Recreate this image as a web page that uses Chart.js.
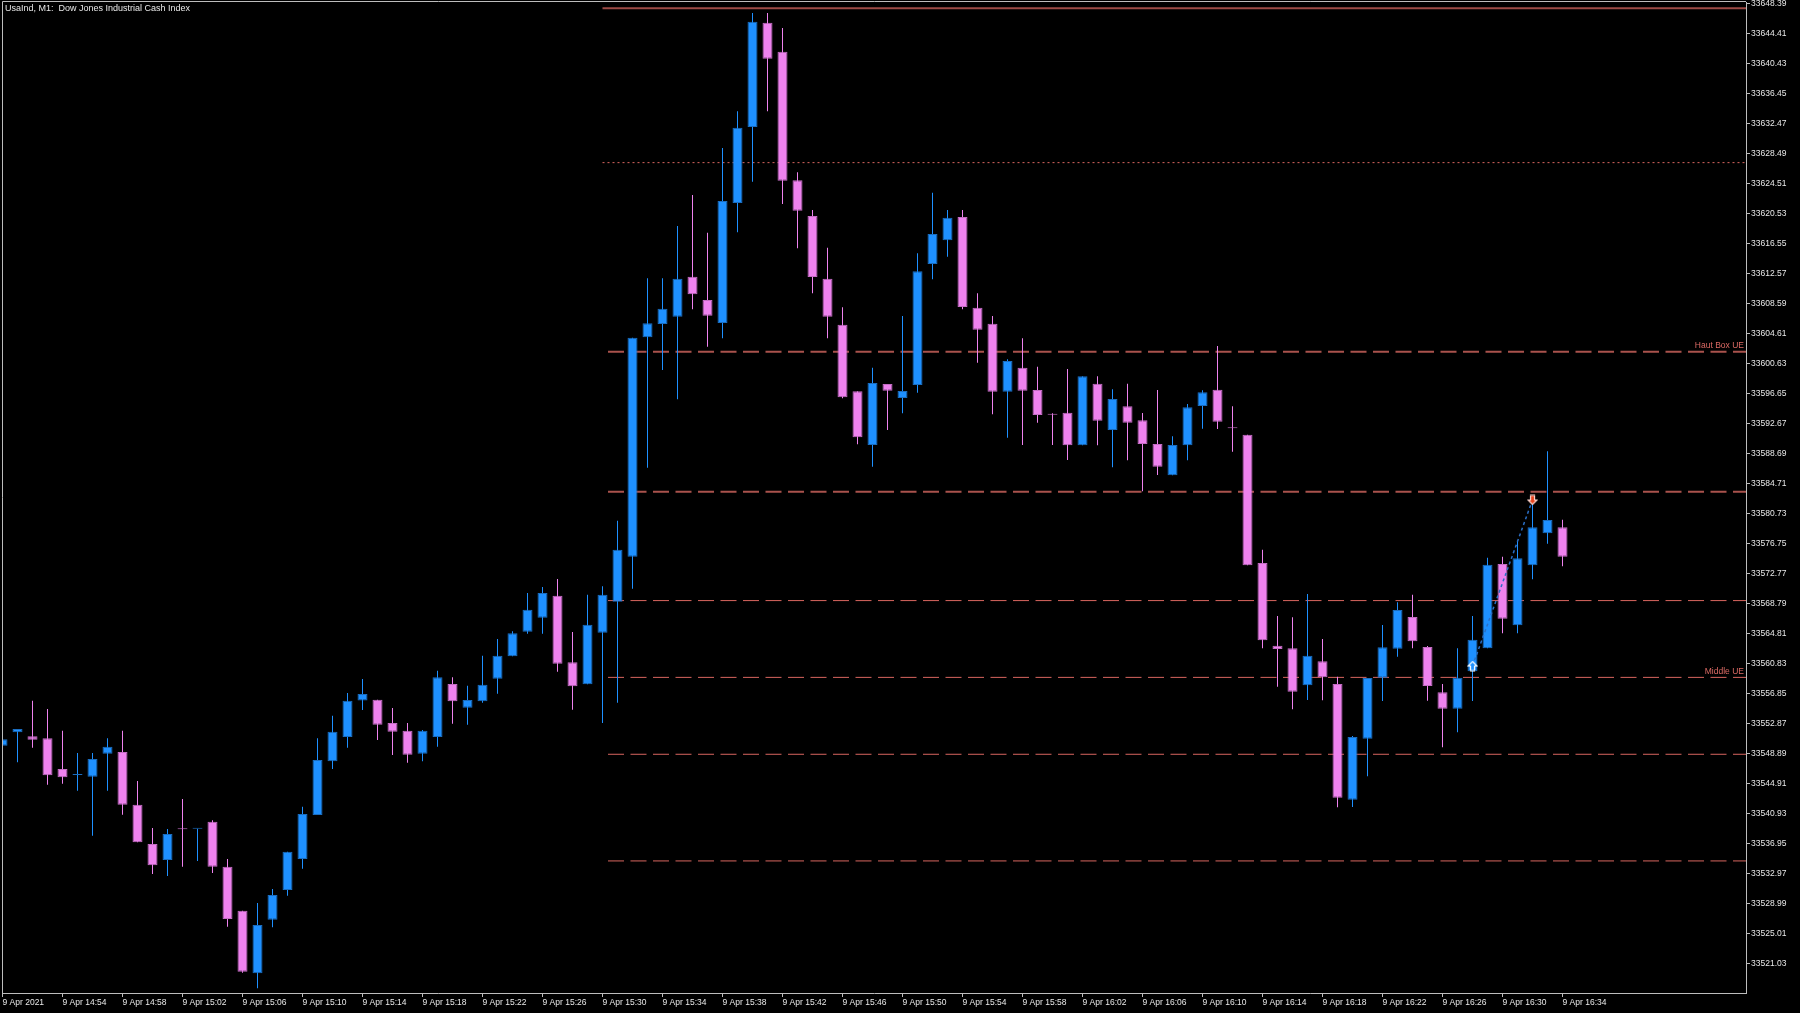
<!DOCTYPE html>
<html>
<head>
<meta charset="utf-8">
<title>UsaInd, M1</title>
<script src="https://cdn.jsdelivr.net/npm/chart.js@4.4.1/dist/chart.umd.min.js"></script>
<style>
	html, body { margin: 0; padding: 0; background: #000; }
	#wrap { width: 1800px; height: 1013px; }
</style>
</head>
<body>
<div id="wrap"><canvas id="chart" width="1800" height="1013"></canvas></div>
<script>
// one candle per minute, 9 Apr 2021 14:50 -> 16:34
const timeLabels = [
	"9 Apr 2021", "9 Apr 14:54", "9 Apr 14:58", "9 Apr 15:02", "9 Apr 15:06", "9 Apr 15:10",
	"9 Apr 15:14", "9 Apr 15:18", "9 Apr 15:22", "9 Apr 15:26", "9 Apr 15:30", "9 Apr 15:34",
	"9 Apr 15:38", "9 Apr 15:42", "9 Apr 15:46", "9 Apr 15:50", "9 Apr 15:54", "9 Apr 15:58",
	"9 Apr 16:02", "9 Apr 16:06", "9 Apr 16:10", "9 Apr 16:14", "9 Apr 16:18", "9 Apr 16:22",
	"9 Apr 16:26", "9 Apr 16:30", "9 Apr 16:34"
];
const timeTickIndex = [0, 4, 8, 12, 16, 20, 24, 28, 32, 36, 40, 44, 48, 52, 56, 60, 64, 68, 72, 76, 80, 84, 88, 92, 96, 100, 104];

const priceTicks = [
	33648.39, 33644.41, 33640.43, 33636.45, 33632.47, 33628.49, 33624.51, 33620.53, 33616.55,
	33612.57, 33608.59, 33604.61, 33600.63, 33596.65, 33592.67, 33588.69, 33584.71, 33580.73,
	33576.75, 33572.77, 33568.79, 33564.81, 33560.83, 33556.85, 33552.87, 33548.89, 33544.91,
	33540.93, 33536.95, 33532.97, 33528.99, 33525.01, 33521.03
];

const opens = [
	33549.90, 33551.68, 33551.15, 33550.88, 33546.81, 33546.00, 33545.79, 33548.84, 33549.07, 33542.07,
	33536.86, 33534.74, 33538.82, 33538.88, 33539.82, 33533.85, 33528.01, 33519.71, 33526.82, 33530.76,
	33534.87, 33540.71, 33547.83, 33551.06, 33555.90, 33556.00, 33552.91, 33551.89, 33548.84, 33551.06,
	33558.09, 33554.94, 33555.79, 33558.79, 33561.76, 33565.03, 33566.88, 33569.80, 33560.97, 33558.05,
	33564.89, 33569.01, 33574.97, 33604.08, 33605.85, 33606.82, 33612.12, 33609.03, 33605.98, 33621.90,
	33631.98, 33645.82, 33641.97, 33624.91, 33620.17, 33611.86, 33605.75, 33596.92, 33589.79, 33597.89,
	33596.03, 33597.75, 33613.81, 33616.95, 33620.04, 33608.01, 33605.89, 33596.87, 33600.05, 33597.09,
	33593.82, 33594.08, 33589.75, 33597.93, 33591.78, 33594.93, 33593.07, 33589.93, 33585.77, 33589.75,
	33594.97, 33597.13, 33592.02, 33591.16, 33574.14, 33563.17, 33562.82, 33557.91, 33561.10, 33558.09,
	33542.74, 33550.83, 33558.92, 33562.77, 33566.98, 33563.00, 33556.99, 33554.81, 33559.77, 33562.82,
	33574.01, 33565.87, 33573.83, 33578.08, 33578.88
];
const highs = [
	33550.75, 33552.12, 33555.87, 33554.77, 33551.89, 33548.93, 33548.93, 33550.88, 33551.89, 33545.22,
	33538.98, 33538.85, 33542.83, 33538.89, 33540.00, 33534.87, 33528.01, 33529.03, 33530.89, 33535.84,
	33541.81, 33550.88, 33553.88, 33556.89, 33558.75, 33556.00, 33554.90, 33552.91, 33551.98, 33559.85,
	33558.98, 33557.86, 33561.84, 33564.06, 33565.08, 33570.16, 33570.96, 33572.02, 33564.99, 33569.93,
	33571.05, 33579.75, 33604.03, 33611.91, 33611.91, 33618.85, 33622.96, 33617.96, 33629.20, 33634.06,
	33647.11, 33647.11, 33645.12, 33625.97, 33620.97, 33615.97, 33608.06, 33596.92, 33600.05, 33597.89,
	33606.91, 33615.23, 33623.27, 33620.97, 33620.97, 33609.92, 33606.91, 33601.16, 33603.95, 33600.18,
	33594.00, 33599.88, 33598.91, 33598.91, 33597.18, 33597.93, 33594.04, 33597.09, 33590.95, 33595.23,
	33597.05, 33602.93, 33594.93, 33591.16, 33575.90, 33567.11, 33566.94, 33570.03, 33564.06, 33559.06,
	33551.19, 33558.88, 33565.91, 33568.93, 33569.93, 33563.13, 33558.09, 33562.82, 33567.11, 33574.84,
	33574.97, 33577.10, 33583.07, 33588.96, 33579.88
];
const lows = [
	33549.90, 33547.70, 33549.64, 33544.73, 33544.86, 33543.93, 33537.96, 33543.93, 33540.75, 33537.09,
	33532.88, 33532.62, 33533.85, 33534.60, 33533.01, 33525.89, 33519.79, 33517.72, 33525.81, 33530.00,
	33533.58, 33540.71, 33546.81, 33549.64, 33554.64, 33550.66, 33548.67, 33547.65, 33547.83, 33549.77,
	33552.82, 33552.69, 33555.61, 33556.80, 33561.76, 33564.76, 33564.76, 33559.72, 33554.68, 33558.05,
	33552.91, 33555.61, 33570.73, 33586.78, 33599.74, 33595.86, 33607.80, 33602.84, 33603.95, 33618.01,
	33624.73, 33634.06, 33621.77, 33615.89, 33609.92, 33603.95, 33595.99, 33589.89, 33586.92, 33591.78,
	33594.00, 33596.73, 33611.78, 33614.78, 33607.80, 33600.71, 33593.87, 33590.76, 33589.79, 33592.75,
	33589.79, 33587.80, 33589.75, 33589.75, 33586.84, 33587.76, 33583.65, 33585.81, 33585.77, 33587.76,
	33591.96, 33591.92, 33588.90, 33573.83, 33562.82, 33557.73, 33554.73, 33555.96, 33555.92, 33541.73,
	33541.77, 33545.84, 33555.83, 33561.71, 33562.82, 33555.87, 33549.69, 33551.68, 33555.83, 33562.82,
	33564.81, 33564.81, 33571.98, 33576.70, 33573.70
];
const closes = [
	33550.75, 33552.12, 33550.70, 33545.97, 33545.71, 33546.01, 33548.14, 33549.77, 33542.07, 33537.09,
	33534.03, 33538.19, 33538.81, 33538.89, 33533.85, 33526.91, 33519.92, 33526.11, 33530.09, 33535.84,
	33540.84, 33548.00, 33551.76, 33555.87, 33556.76, 33552.69, 33551.76, 33548.71, 33551.89, 33558.98,
	33555.79, 33555.96, 33557.99, 33561.84, 33564.81, 33567.94, 33570.16, 33560.78, 33557.78, 33565.95,
	33569.93, 33575.90, 33604.03, 33605.94, 33607.88, 33611.86, 33609.79, 33606.95, 33622.16, 33631.89,
	33645.95, 33641.04, 33624.86, 33620.88, 33612.08, 33606.82, 33596.12, 33590.82, 33598.02, 33597.00,
	33596.96, 33612.84, 33617.79, 33619.95, 33608.10, 33605.09, 33596.87, 33600.94, 33597.00, 33593.77,
	33593.81, 33589.75, 33598.91, 33593.02, 33595.90, 33592.75, 33589.93, 33586.92, 33589.79, 33594.80,
	33596.79, 33592.89, 33592.01, 33573.83, 33563.88, 33562.73, 33557.07, 33561.84, 33558.98, 33543.00,
	33551.06, 33558.88, 33562.96, 33567.90, 33563.75, 33557.82, 33554.81, 33558.92, 33563.96, 33573.91,
	33566.75, 33574.76, 33578.88, 33579.84, 33574.97
];

// horizontal levels drawn on the chart (start at the 15:30 candle)
const levelPrices = [33647.73, 33627.25, 33602.15, 33583.59, 33569.15, 33558.96, 33548.76, 33534.61];
const levelNames = ["", "", "Haut Box UE", "", "", "Middle UE", "", ""];
const levelStartIndex = 40;

// trade: buy arrow then close marker
const tradeIndex = [98, 102];
const tradePrices = [33560.47, 33582.50];

const BULL = "#1e90ff";
const BEAR = "#ee82ee";
const BULL_EDGE = "#1b6dbf";
const BEAR_EDGE = "#c46cc4";
const AXIS = "#bdbdbd";
const TEXT = "#e8e8e8";
const FONT_FAMILY = "'Liberation Sans', Arial, sans-serif";
const FONT_SIZE = 8.5;

const X_MIN = -0.5 / 15, X_MAX = 116.2333;
const Y_MIN = 33517.09, Y_MAX = 33648.56;

const levelStyles = [
	{ color: "#9c4a45", width: 2, dash: [], offset: 0 },
	{ color: "#d8655f", width: 1, dash: [2, 3], offset: 0 },
	{ color: "#a9524c", width: 2, dash: [16, 6.5], offset: 17 },
	{ color: "#a9524c", width: 2, dash: [16, 6.5], offset: 17 },
	{ color: "#d8655f", width: 1, dash: [16, 6.5], offset: 17 },
	{ color: "#d8655f", width: 1, dash: [16, 6.5], offset: 17 },
	{ color: "#d8655f", width: 1, dash: [16, 6.5], offset: 17 },
	{ color: "#d8655f", width: 1, dash: [16, 6.5], offset: 17 },
];

function arrowIcon(up, fill, stroke) {
	const cv = document.createElement("canvas");
	cv.width = 11;
	cv.height = 11;
	const c = cv.getContext("2d");
	c.translate(5.5, 5.5);
	if (!up)
		c.rotate(Math.PI);
	c.beginPath();
	c.moveTo(0, -4.5);
	c.lineTo(4.5, 0);
	c.lineTo(2, 0);
	c.lineTo(2, 4.5);
	c.lineTo(-2, 4.5);
	c.lineTo(-2, 0);
	c.lineTo(-4.5, 0);
	c.closePath();
	c.fillStyle = fill;
	c.fill();
	c.lineWidth = 1.2;
	c.strokeStyle = stroke;
	c.stroke();
	return cv;
}

const isUp = closes.map((c, i) => c >= opens[i]);
const wickData = highs.map((h, i) => ({ x: i, y: [lows[i], h] }));
const bodyData = opens.map((o, i) => ({ x: i, y: [o, closes[i]] }));

const levelDatasets = levelPrices.map((p, i) => ({
	type: "line",
	data: [{ x: levelStartIndex, y: p }, { x: X_MAX, y: p }],
	borderColor: levelStyles[i].color,
	borderWidth: levelStyles[i].width,
	borderDash: levelStyles[i].dash,
	borderDashOffset: levelStyles[i].offset,
	pointRadius: 0,
	tension: 0,
	order: 6,
}));

const overlay = {
	id: "overlay",
	beforeDraw(chart) {
		const c = chart.ctx;
		c.save();
		c.fillStyle = "#000";
		c.fillRect(0, 0, chart.width, chart.height);
		c.restore();
	},
	afterDraw(chart) {
		const c = chart.ctx;
		const a = chart.chartArea;
		const ys = chart.scales.y;
		c.save();
		c.strokeStyle = AXIS;
		c.lineWidth = 1;
		c.beginPath();
		c.moveTo(a.left + 0.5, a.bottom);
		c.lineTo(a.left + 0.5, a.top - 0.5);
		c.lineTo(a.right, a.top - 0.5);
		c.stroke();

		c.font = `9px ${FONT_FAMILY}`;
		c.textBaseline = "middle";
		c.fillStyle = TEXT;
		c.fillText("UsaInd, M1:  Dow Jones Industrial Cash Index", 5, 9);

		c.font = `${FONT_SIZE}px ${FONT_FAMILY}`;
		c.textAlign = "right";
		c.fillStyle = "#dc6a64";
		levelNames.forEach((name, i) => {
			if (!name)
				return;
			c.fillText(name, a.right - 2, ys.getPixelForValue(levelPrices[i]) - 6);
		});
		c.restore();
	}
};

new Chart(document.getElementById("chart"), {
	type: "bar",
	data: {
		datasets: [
			...levelDatasets,
			{
				label: "wicks",
				data: wickData,
				backgroundColor: isUp.map(u => u ? BULL : BEAR),
				borderWidth: 0,
				barThickness: 1,
				grouped: false,
				inflateAmount: 0,
				order: 5,
			},
			{
				label: "bodies",
				data: bodyData,
				backgroundColor: isUp.map(u => u ? BULL : BEAR),
				borderColor: isUp.map(u => u ? BULL_EDGE : BEAR_EDGE),
				borderWidth: 1,
				borderSkipped: false,
				barThickness: 10,
				minBarLength: 1,
				grouped: false,
				inflateAmount: 0,
				order: 4,
			},
			{
				type: "line",
				label: "trade",
				data: tradeIndex.map((x, i) => ({ x: x, y: tradePrices[i] })),
				borderColor: "#2a6fc6",
				borderWidth: 1.5,
				borderDash: [3, 3],
				pointRadius: 0,
				order: 3,
			},
			{
				type: "line",
				label: "markers",
				data: tradeIndex.map((x, i) => ({ x: x, y: tradePrices[i] })),
				showLine: false,
				pointStyle: [arrowIcon(true, BULL, "#ffffff"), arrowIcon(false, "#e8441e", "#ffd8d0")],
				order: 2,
			},
		],
	},
	options: {
		responsive: false,
		devicePixelRatio: 1,
		animation: false,
		events: [],
		layout: { autoPadding: false, padding: { left: 2, top: 2, right: 0, bottom: 0 } },
		plugins: {
			legend: { display: false },
			tooltip: { enabled: false },
		},
		scales: {
			x: {
				type: "linear",
				min: X_MIN,
				max: X_MAX,
				offset: false,
				grid: { display: true, offset: false, drawOnChartArea: false, drawTicks: true, tickLength: 4, color: AXIS },
				border: { display: true, color: AXIS },
				afterBuildTicks: (s) => { s.ticks = timeTickIndex.map(v => ({ value: v })); },
				afterFit: (s) => { s.height = 20; s.paddingLeft = 0; s.paddingRight = 0; },
				ticks: {
					autoSkip: false,
					maxRotation: 0,
					minRotation: 0,
					align: "start",
					padding: 1,
					color: TEXT,
					font: { family: FONT_FAMILY, size: FONT_SIZE },
					callback: (v, i) => timeLabels[i],
				},
			},
			y: {
				type: "linear",
				position: "right",
				min: Y_MIN,
				max: Y_MAX,
				beginAtZero: false,
				grid: { display: true, drawOnChartArea: false, drawTicks: true, tickLength: 4, color: AXIS },
				border: { display: true, color: AXIS },
				afterBuildTicks: (s) => { s.ticks = priceTicks.map(v => ({ value: v })); },
				afterFit: (s) => { s.width = 54; s.paddingTop = 0; s.paddingBottom = 0; },
				ticks: {
					autoSkip: false,
					padding: 1,
					color: TEXT,
					font: { family: FONT_FAMILY, size: FONT_SIZE },
					callback: (v) => Number(v).toFixed(2),
				},
			},
		},
	},
	plugins: [overlay],
});
</script>
</body>
</html>
